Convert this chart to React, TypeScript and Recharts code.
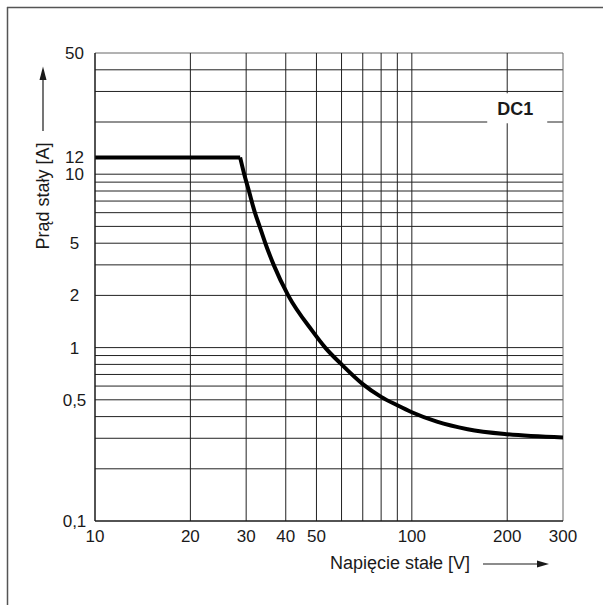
import React from 'react';
import { LineChart, Line, XAxis, YAxis, ReferenceLine, ReferenceDot } from 'recharts';

// Curve: DC voltage [V] vs DC current [A]
// constant-current part
const flatVoltage = [10, 28.71];
const flatCurrent = [12.5, 12.5];
// falling part
const curveVoltage = [28.71, 29.58, 30.61, 31.97, 33.08, 34.48, 36.64, 40.71, 48.64, 53.28, 60, 70, 80, 90, 100, 120, 150, 200, 300];
const curveCurrent = [12.5, 10, 8, 6, 5, 4, 3, 2, 1.24, 1.0, 0.8, 0.616, 0.52, 0.465, 0.424, 0.374, 0.3385, 0.3164, 0.3032];

// Tick labels
const xTickValues = [10, 20, 30, 40, 50, 100, 200, 300];
const xTickLabels = ['10', '20', '30', '40', '50', '100', '200', '300'];
const yTickValues = [0.1, 0.5, 1, 2, 4, 10, 12.5, 50];
const yTickLabels = ['0,1', '0,5', '1', '2', '5', '10', '12', '50'];

// Grid lines
const xGrid = [20, 30, 40, 50, 60, 70, 80, 90, 100, 200, 300];
const yGrid = [0.2, 0.3, 0.4, 0.5, 0.6, 0.7, 0.8, 0.9, 1, 2, 3, 4, 5, 6, 7, 8, 9, 10, 20, 30, 40, 50];

const seriesName = 'DC1';
const seriesLabelPos = { x: 212, y: 24 };

const flatData = flatVoltage.map((v, i) => ({ v, a: flatCurrent[i] }));
const curveData = curveVoltage.map((v, i) => ({ v, a: curveCurrent[i] }));

const FONT = '"Liberation Sans", Arial, sans-serif';
const INK = '#1a1a1a';

const YTick = (props: any) => {
  const { x, y, payload } = props;
  const idx = yTickValues.indexOf(payload.value);
  return (
    <text x={x} y={y} dy="0.355em" textAnchor="middle" fontSize={17} fontFamily={FONT} fill={INK}>
      {idx >= 0 ? yTickLabels[idx] : ''}
    </text>
  );
};

const DcLabel = (props: any) => {
  const { cx, cy } = props;
  return (
    <g>
      <rect x={cx - 28} y={cy - 15} width={60} height={30} fill="#fff" />
      <text x={cx} y={cy} dy="0.36em" textAnchor="middle" fontSize={18} fontWeight="bold" fontFamily={FONT} fill={INK}>
        {seriesName}
      </text>
    </g>
  );
};

export default function App() {
  return (
    <div style={{ position: 'absolute', left: 0, top: 0, width: 603, height: 605, background: '#fff', overflow: 'hidden' }}>
      <svg width={603} height={605} style={{ position: 'absolute', left: 0, top: 0 }}>
        <line x1={7} y1={7.5} x2={603} y2={7.5} stroke="#555" strokeWidth={1.5} />
        <line x1={7.5} y1={7} x2={7.5} y2={605} stroke="#555" strokeWidth={1.5} />
        {/* y-axis arrow */}
        <line x1={43} y1={131} x2={43} y2={78} stroke={INK} strokeWidth={1.2} />
        <polygon points="43,66.5 39.5,80 46.5,80" fill={INK} />
        <text
          x={43}
          y={196}
          transform="rotate(-90 43 196)"
          dy="0.36em"
          textAnchor="middle"
          fontSize={18}
          fontFamily={FONT}
          fill={INK}
        >
          Prąd stały [A]
        </text>
        {/* x-axis arrow */}
        <line x1={483} y1={564} x2={538} y2={564} stroke={INK} strokeWidth={1.2} />
        <polygon points="549,564 537,560.5 537,567.5" fill={INK} />
        <text x={400} y={563} dy="0.36em" textAnchor="middle" fontSize={18} fontFamily={FONT} fill={INK}>
          Napięcie stałe [V]
        </text>
      </svg>
      <div style={{ position: 'absolute', left: 0, top: 0 }}>
        <LineChart width={603} height={605} margin={{ top: 53, right: 40, bottom: 0, left: 0 }}>
          <XAxis
            dataKey="v"
            type="number"
            scale="log"
            domain={[10, 300]}
            allowDataOverflow
            ticks={xTickValues}
            interval={0}
            tickFormatter={(val: number) => {
              const i = xTickValues.indexOf(val);
              return i >= 0 ? xTickLabels[i] : '';
            }}
            height={84}
            tickLine={false}
            tickSize={0}
            tickMargin={9}
            axisLine={{ stroke: INK, strokeWidth: 1.5 }}
            tick={{ fontSize: 17, fontFamily: FONT, fill: INK }}
          />
          <YAxis
            type="number"
            scale="log"
            domain={[0.1, 50]}
            allowDataOverflow
            ticks={yTickValues}
            interval={0}
            width={95}
            tickLine={false}
            tickSize={0}
            tickMargin={20.5}
            axisLine={{ stroke: INK, strokeWidth: 1.5 }}
            tick={<YTick />}
          />
          {yGrid.map((g) => (
            <ReferenceLine key={'y' + g} y={g} stroke={g === 50 ? '#666' : '#222'} strokeWidth={1} ifOverflow="extendDomain" />
          ))}
          {xGrid.map((g) => (
            <ReferenceLine key={'x' + g} x={g} stroke={g === 300 ? '#666' : '#222'} strokeWidth={1} ifOverflow="extendDomain" />
          ))}
          <ReferenceDot x={seriesLabelPos.x} y={seriesLabelPos.y} r={0} shape={<DcLabel />} />
          <Line
            data={flatData}
            dataKey="a"
            type="linear"
            stroke="#000"
            strokeWidth={4}
            dot={false}
            isAnimationActive={false}
          />
          <Line
            data={curveData}
            dataKey="a"
            type="monotone"
            stroke="#000"
            strokeWidth={4}
            dot={false}
            isAnimationActive={false}
          />
        </LineChart>
      </div>
    </div>
  );
}
